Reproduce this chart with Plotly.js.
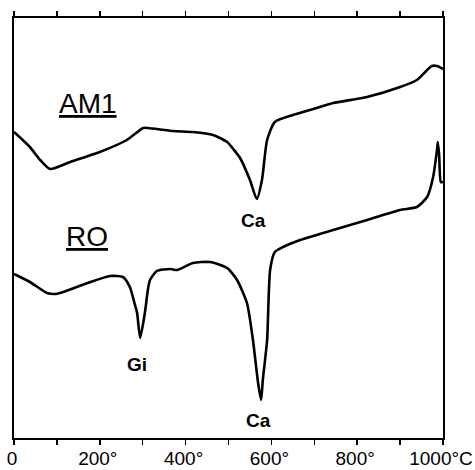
<!DOCTYPE html>
<html>
<head>
<meta charset="utf-8">
<script src="https://cdn.plot.ly/plotly-3.0.1.min.js"></script>
<style>html,body{margin:0;padding:0;background:#fff;}#chart{width:475px;height:470px;}</style>
</head>
<body>
<div id="chart"></div>
<script>
// Temperature (°C) and DTA signal (arbitrary units)
var am1Temp = [0, 37, 61, 84, 131, 200, 263, 301, 312, 371, 417, 464, 497, 513, 527, 550, 566, 578, 590, 608, 650, 713, 744, 823, 900, 939, 963, 974, 986, 1000];
var am1Dta  = [306, 291, 278, 269, 276, 286, 298, 310, 310, 307, 306, 303, 296, 288, 280, 258, 239, 258, 298, 316, 323, 331, 335, 341, 351, 358, 368, 372, 372, 369];

var roTemp = [0, 37, 77, 96, 107, 172, 224, 254, 270, 282, 287, 294, 305, 312, 317, 333, 364, 380, 417, 457, 497, 520, 543, 557, 569, 576, 580, 590, 597, 608, 627, 667, 744, 823, 900, 939, 963, 977, 986, 988, 991, 995, 1000];
var roDta  = [164, 156, 145, 144, 145, 155, 162, 161, 151, 133, 125, 100, 125, 148, 158, 167, 169, 168, 175, 176, 170, 158, 135, 98, 55, 38, 58, 98, 168, 186, 191, 198, 208, 218, 228, 231, 241, 261, 288, 296, 283, 256, 256];

var tickVals = [0, 100, 200, 300, 400, 500, 600, 700, 800, 900, 1000];
var tickText = ['0', '', '200°', '', '400°', '', '600°', '', '800°', '', '1000°C'];

var sampleNames = ['AM1', 'RO'];
var peakLabels = ['Ca', 'Gi', 'Ca'];

var lineStyle = {color: '#000', width: 2.6, shape: 'spline', smoothing: 0.6};
var traces = [
  {x: am1Temp, y: am1Dta, mode: 'lines', line: lineStyle, hoverinfo: 'none'},
  {x: roTemp, y: roDta, mode: 'lines', line: lineStyle, hoverinfo: 'none'}
];

var nameFont = {family: 'Liberation Sans, Arial, sans-serif', size: 28, color: '#000'};
var peakFont = {family: 'Liberation Sans, Arial, sans-serif', size: 19, color: '#000', weight: 'bold'};

var layout = {
  width: 475, height: 470,
  margin: {l: 14, r: 32, t: 18, b: 32},
  paper_bgcolor: '#fff', plot_bgcolor: '#fff',
  showlegend: false,
  xaxis: {
    range: [0, 1000], tickmode: 'array', tickvals: tickVals, ticktext: tickText,
    ticks: 'outside', ticklen: 5, tickwidth: 1.5, tickcolor: '#000',
    ticklabelstandoff: -3, ticklabeloverflow: 'allow', ticklabelshift: -2,
    showline: true, linecolor: '#000', linewidth: 2, mirror: 'allticks',
    showgrid: false, zeroline: false,
    tickfont: {family: 'Liberation Sans, Arial, sans-serif', size: 19, color: '#000'}
  },
  yaxis: {
    range: [0, 420], showticklabels: false, ticks: '',
    showline: true, linecolor: '#000', linewidth: 2, mirror: true,
    showgrid: false, zeroline: false
  },
  annotations: [
    {x: 172, y: 335, text: '<u>' + sampleNames[0] + '</u>', showarrow: false, font: nameFont},
    {x: 169, y: 202, text: '<u>' + sampleNames[1] + '</u>', showarrow: false, font: nameFont},
    {x: 559, y: 218, text: peakLabels[0], showarrow: false, font: peakFont},
    {x: 287, y: 74, text: peakLabels[1], showarrow: false, font: peakFont},
    {x: 569, y: 18, text: peakLabels[2], showarrow: false, font: peakFont}
  ]
};

Plotly.newPlot('chart', traces, layout, {staticPlot: true, displayModeBar: false});
</script>
</body>
</html>
